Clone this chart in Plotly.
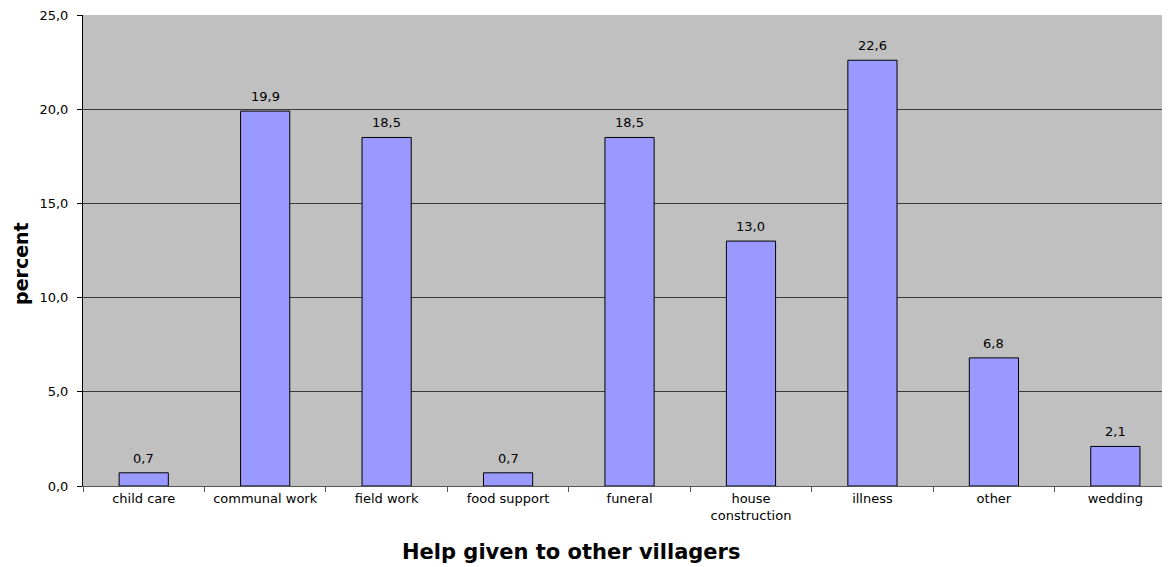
import plotly.graph_objects as go

categories = ["child care", "communal work", "field work", "food support", "funeral",
              "house<br>construction", "illness", "other", "wedding"]
percent = [0.7, 19.9, 18.5, 0.7, 18.5, 13.0, 22.6, 6.8, 2.1]
y_ticks = [0, 5, 10, 15, 20, 25]

FONT = "DejaVu Sans, Verdana, sans-serif"

fig = go.Figure(go.Bar(
    x=categories, y=percent,
    width=0.405,
    marker=dict(color="#9999FF", line=dict(color="#000000", width=1)),
))

# page body has an 8px default margin; compensate so the plot lands where the reference has it
OFF = 8
W, H = 1170 - OFF, 567 - OFF
L, T = 83 - OFF, 13 - OFF
PLOT_BOTTOM = 486 - OFF
B = H - PLOT_BOTTOM
plot_w = W - L
plot_h = H - T - B

value_labels = [
    dict(x=c, y=v, xref="x", yref="y", text=f"{v:.1f}".replace(".", ","),
         showarrow=False, yanchor="bottom", xanchor="center", yshift=5,
         font=dict(family=FONT, size=13, color="#000000"))
    for c, v in zip(categories, percent)
]

fig.update_layout(
    width=W, height=H,
    margin=dict(l=L, r=0, t=T, b=B),
    paper_bgcolor="#FFFFFF",
    plot_bgcolor="#C0C0C0",
    separators=", ",
    showlegend=False,
    font=dict(family=FONT, size=13, color="#000000"),
    xaxis=dict(
        type="category", range=[-0.5, 8.45],
        tickson="boundaries", ticks="outside", ticklen=5, tickcolor="#555555",
        showgrid=False, showline=True, linecolor="#555555", linewidth=1,
        tickfont=dict(family=FONT, size=13, color="#000000"),
        fixedrange=True,
    ),
    yaxis=dict(
        range=[0, 25], tickvals=y_ticks, tickformat=".1f",
        ticks="outside", ticklen=5, tickcolor="#000000",
        showgrid=True, gridcolor="#3a3a3a", gridwidth=1,
        showline=True, linecolor="#000000", linewidth=1,
        zeroline=False,
        tickfont=dict(family=FONT, size=13, color="#000000"),
        ticklabelstandoff=6,
        ticklabeloverflow="allow",
    ),
    annotations=value_labels + [
        dict(text="<b>Help given to other villagers</b>", xref="paper", yref="paper",
             x=(571 - OFF - L) / plot_w, y=-(552 - 486) / plot_h,
             xanchor="center", yanchor="middle", showarrow=False,
             font=dict(family=FONT, size=21, color="#000000")),
        dict(text="<b>percent</b>", xref="paper", yref="paper",
             x=(21 - 83) / plot_w, y=(486 - 262) / plot_h,
             xanchor="center", yanchor="middle", showarrow=False, textangle=-90,
             font=dict(family=FONT, size=19, color="#000000")),
    ],
)

fig.write_html("out.html")
